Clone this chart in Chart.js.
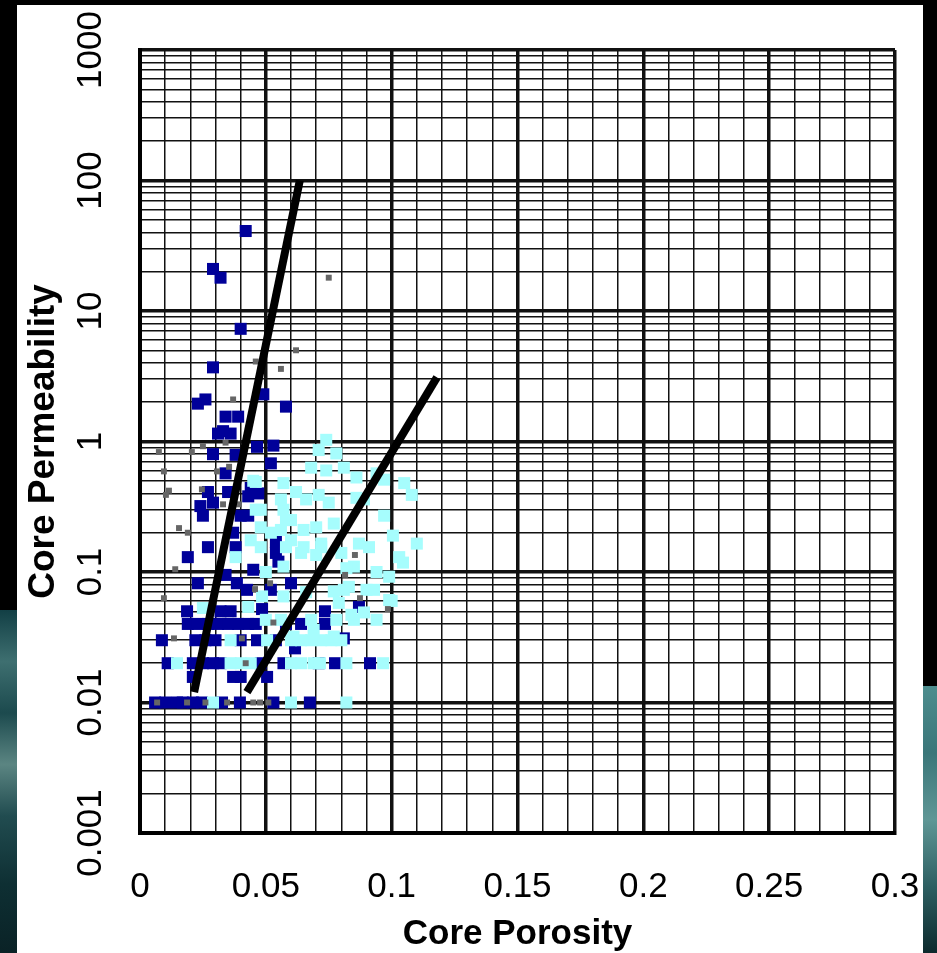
<!DOCTYPE html>
<html>
<head>
<meta charset="utf-8">
<script src="https://cdn.jsdelivr.net/npm/chart.js@4.4.1/dist/chart.umd.min.js"></script>
<style>
  html, body { margin: 0; padding: 0; background: #000; }
  body { width: 937px; height: 953px; position: relative; overflow: hidden; }
  #seaLeft {
    position: absolute; left: 0; top: 610px; width: 17px; height: 343px;
    background: linear-gradient(180deg, #123f45 0%, #3e6f70 15%, #1c4a4e 30%, #5b8582 45%, #214c50 60%, #0e2f33 80%, #0a2226 100%);
  }
  #seaRight {
    position: absolute; left: 923px; top: 686px; width: 14px; height: 267px;
    background: linear-gradient(180deg, #4d8d8e 0%, #3a7679 25%, #5f9796 50%, #2d5f62 75%, #0d2a2d 100%);
  }
  #panel { position: absolute; left: 17px; top: 5px; width: 906px; height: 948px; background: #fff; }
</style>
</head>
<body>
<div id="seaLeft"></div>
<div id="seaRight"></div>
<div id="panel"><canvas id="chart" width="906" height="948"></canvas></div>
<script>
// axis labels
const xTickLabels = ["0", "0.05", "0.1", "0.15", "0.2", "0.25", "0.3"];
const yTickLabels = ["0.001", "0.01", "0.1", "1", "10", "100", "1000"];

// trend lines [porosity, permeability]
const lineLow = [[0.0215, 0.012], [0.0635, 100]];
const lineHigh = [[0.0425, 0.012], [0.118, 3.1]];

// dark blue samples
const darkPts = [
  [0.042, 41], [0.029, 21], [0.032, 18], [0.040, 7.3], [0.029, 3.7], [0.049, 2.3],
  [0.026, 2.1], [0.023, 1.95], [0.058, 1.85], [0.034, 1.55], [0.039, 1.55], [0.033, 1.2],
  [0.036, 1.15], [0.031, 1.15], [0.0465, 0.91], [0.053, 0.93], [0.029, 0.8], [0.038, 0.79],
  [0.052, 0.68], [0.034, 0.57], [0.027, 0.41], [0.035, 0.41], [0.043, 0.38], [0.044, 0.44],
  [0.047, 0.4], [0.024, 0.32], [0.029, 0.34], [0.025, 0.27], [0.040, 0.27], [0.043, 0.27],
  [0.037, 0.2], [0.027, 0.155], [0.038, 0.155], [0.019, 0.13], [0.054, 0.17],
  [0.054, 0.14], [0.055, 0.12], [0.034, 0.095], [0.045, 0.104], [0.023, 0.082], [0.0385, 0.082],
  [0.060, 0.082], [0.052, 0.073], [0.0425, 0.073], [0.0485, 0.052], [0.0187, 0.05], [0.032, 0.05],
  [0.036, 0.05], [0.087, 0.054], [0.0735, 0.05],
  [0.019, 0.04], [0.023, 0.04], [0.027, 0.04], [0.031, 0.04], [0.035, 0.04], [0.039, 0.04],
  [0.043, 0.04], [0.046, 0.04], [0.0735, 0.04], [0.058, 0.04], [0.064, 0.04],
  [0.0087, 0.03], [0.022, 0.03], [0.026, 0.03], [0.030, 0.03], [0.040, 0.03], [0.0465, 0.03],
  [0.054, 0.03], [0.081, 0.031], [0.0616, 0.026],
  [0.011, 0.02], [0.021, 0.02], [0.025, 0.02], [0.029, 0.02], [0.032, 0.02], [0.048, 0.02],
  [0.057, 0.02], [0.0775, 0.02], [0.0914, 0.02], [0.071, 0.02],
  [0.037, 0.0157], [0.040, 0.0157], [0.0505, 0.0157], [0.021, 0.0157],
  [0.006, 0.01], [0.010, 0.01], [0.0147, 0.01], [0.017, 0.01], [0.021, 0.01], [0.0246, 0.01],
  [0.0326, 0.01], [0.0397, 0.01], [0.053, 0.01], [0.0675, 0.01]
];

// light cyan samples
const cyanPts = [
  [0.074, 1.03], [0.071, 0.86], [0.078, 0.81], [0.068, 0.63], [0.074, 0.60], [0.081, 0.63],
  [0.086, 0.53], [0.094, 0.57], [0.097, 0.51], [0.105, 0.48], [0.108, 0.39], [0.057, 0.48],
  [0.046, 0.49], [0.062, 0.41], [0.066, 0.36], [0.071, 0.39], [0.075, 0.34], [0.086, 0.37],
  [0.089, 0.36], [0.057, 0.30], [0.097, 0.27], [0.077, 0.235], [0.065, 0.21], [0.070, 0.22],
  [0.060, 0.175], [0.058, 0.155], [0.072, 0.165], [0.087, 0.165], [0.091, 0.155], [0.1005, 0.19],
  [0.110, 0.165], [0.103, 0.13], [0.064, 0.14], [0.070, 0.135], [0.056, 0.36], [0.058, 0.25],
  [0.048, 0.22], [0.048, 0.30], [0.056, 0.21], [0.060, 0.25], [0.044, 0.175], [0.048, 0.155],
  [0.038, 0.13], [0.050, 0.10], [0.057, 0.11], [0.065, 0.155], [0.072, 0.155], [0.080, 0.14],
  [0.085, 0.11], [0.094, 0.10], [0.1045, 0.118], [0.090, 0.073], [0.081, 0.073], [0.066, 0.07],
  [0.057, 0.065], [0.0485, 0.065], [0.043, 0.054], [0.099, 0.061], [0.094, 0.043], [0.085, 0.043],
  [0.078, 0.043], [0.068, 0.043], [0.056, 0.043], [0.050, 0.043], [0.025, 0.053],
  [0.060, 0.03], [0.064, 0.03], [0.068, 0.03], [0.072, 0.03], [0.076, 0.03], [0.080, 0.03],
  [0.036, 0.03], [0.0505, 0.03],
  [0.0147, 0.02], [0.036, 0.02], [0.040, 0.02], [0.044, 0.02], [0.060, 0.02], [0.064, 0.02],
  [0.069, 0.02], [0.0715, 0.02], [0.082, 0.02], [0.0966, 0.02],
  [0.029, 0.01], [0.060, 0.01], [0.082, 0.01],
  [0.082, 0.107], [0.099, 0.092], [0.083, 0.077], [0.093, 0.073], [0.077, 0.071], [0.079, 0.058],
  [0.089, 0.049], [0.084, 0.047], [0.069, 0.036], [0.077, 0.032], [0.061, 0.032], [0.100, 0.06],
  [0.045, 0.5], [0.046, 0.3], [0.052, 0.2]
];

// small grey samples
const greyPts = [
  [0.075, 18], [0.062, 5.0], [0.056, 3.6], [0.046, 4.1], [0.037, 2.1], [0.025, 0.92],
  [0.034, 0.98], [0.0075, 0.83], [0.0206, 0.83], [0.0095, 0.59], [0.0306, 0.59], [0.0354, 0.64],
  [0.0115, 0.42], [0.0103, 0.39], [0.0246, 0.43], [0.033, 0.33], [0.0393, 0.33], [0.0155, 0.217],
  [0.019, 0.2], [0.014, 0.105], [0.0095, 0.063], [0.0135, 0.031], [0.0854, 0.135], [0.0815, 0.095],
  [0.0874, 0.063], [0.0985, 0.052], [0.0517, 0.082], [0.0457, 0.074], [0.053, 0.041], [0.0405, 0.031],
  [0.042, 0.02], [0.0068, 0.01], [0.0187, 0.01], [0.026, 0.01], [0.0346, 0.01], [0.045, 0.01],
  [0.0477, 0.01], [0.051, 0.01]
];

const toXY = (pts) => pts.map(([x, y]) => ({ x, y }));
const isDecade = (v) => {
  const lg = Math.log10(v);
  return Math.abs(lg - Math.round(lg)) < 1e-6;
};

Chart.defaults.font.family = "'Liberation Sans', Arial, sans-serif";
Chart.defaults.color = "#000";

const tickFont = { size: 35 };

new Chart(document.getElementById("chart"), {
  type: "scatter",
  data: {
    datasets: [
      { data: toXY(lineLow), showLine: true, borderColor: "#000", borderWidth: 8, pointRadius: 0, order: 0 },
      { data: toXY(lineHigh), showLine: true, borderColor: "#000", borderWidth: 8, pointRadius: 0, order: 0 },
      { data: toXY(greyPts), pointStyle: "rect", pointRadius: 4.2, backgroundColor: "#666666", borderWidth: 0, order: 1 },
      { data: toXY(cyanPts), pointStyle: "rect", pointRadius: 8.5, backgroundColor: "#a6fdfd", borderWidth: 0, order: 2 },
      { data: toXY(darkPts), pointStyle: "rect", pointRadius: 8.5, backgroundColor: "#000099", borderWidth: 0, order: 3 },
    ],
  },
  options: {
    responsive: false,
    animation: false,
    devicePixelRatio: 1,
    layout: { padding: { top: 45, right: 28, left: 0, bottom: 0 } },
    plugins: { legend: { display: false }, tooltip: { enabled: false } },
    scales: {
      x: {
        type: "linear",
        min: 0,
        max: 0.3,
        afterBuildTicks: (scale) => {
          scale.ticks = [];
          for (let i = 0; i <= 30; i++) scale.ticks.push({ value: i / 100 });
        },
        afterFit: (scale) => {
          scale.height = 120;
          scale.paddingLeft = 0;
          scale.paddingRight = 0;
        },
        ticks: {
          autoSkip: false,
          maxRotation: 0,
          padding: 33,
          font: tickFont,
          color: "#000",
          callback: (v) => {
            const i = Math.round(v * 100);
            return i % 5 === 0 ? xTickLabels[i / 5] : "";
          },
        },
        grid: {
          drawTicks: false,
          color: "#111",
          lineWidth: (ctx) => (ctx.tick && Math.round(ctx.tick.value * 100) % 5 === 0 ? 3.5 : 1.5),
        },
        border: { color: "#000", width: 4 },
        title: {
          display: true, text: "Core Porosity", color: "#000",
          font: { size: 35, weight: "bold", lineHeight: 1.2 },
          padding: { top: 0, bottom: -2 },
        },
      },
      y: {
        type: "logarithmic",
        min: 0.001,
        max: 1000,
        afterBuildTicks: (scale) => {
          const t = [];
          for (let e = -3; e <= 2; e++) {
            for (let m = 1; m <= 9; m++) t.push({ value: parseFloat((m * Math.pow(10, e)).toPrecision(6)) });
          }
          t.push({ value: 1000 });
          scale.ticks = t;
        },
        afterFit: (scale) => {
          scale.width = 123;
          scale.paddingTop = 0;
          scale.paddingBottom = 0;
        },
        ticks: {
          autoSkip: false,
          minRotation: 90,
          maxRotation: 90,
          crossAlign: "center",
          padding: 5,
          font: tickFont,
          color: "#000",
          callback: (v) => (isDecade(v) ? yTickLabels[Math.round(Math.log10(v)) + 3] : ""),
        },
        grid: {
          drawTicks: false,
          color: "#111",
          lineWidth: (ctx) => (ctx.tick && isDecade(ctx.tick.value) ? 3.5 : 1.5),
        },
        border: { color: "#000", width: 4 },
        title: {
          display: true, text: "Core Permeability", color: "#000",
          font: { size: 37, weight: "bold", lineHeight: 1.2 },
          padding: { top: 5, bottom: 0 },
        },
      },
    },
  },
});
</script>
</body>
</html>
